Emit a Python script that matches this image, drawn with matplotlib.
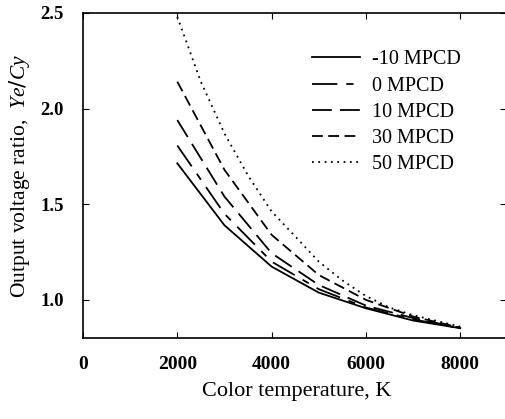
import matplotlib
matplotlib.use("Agg")
import matplotlib.pyplot as plt

# values
temps = [2000, 3000, 4000, 5000, 6000, 7000, 8000]
m10 = [1.714, 1.39, 1.174, 1.038, 0.956, 0.892, 0.852]
p0 = [1.807, 1.45, 1.20, 1.056, 0.960, 0.898, 0.852]
p10 = [1.94, 1.54, 1.244, 1.078, 0.970, 0.905, 0.853]
p30 = [2.141, 1.68, 1.34, 1.13, 1.0, 0.913, 0.855]
# the 50 MPCD curve is smoother, so it is read at a finer step
temps50 = [2000, 2500, 3000, 3500, 4000, 4500, 5000, 5500, 6000, 6500, 7000, 7500, 8000]
p50 = [2.48, 2.14, 1.87, 1.65, 1.462, 1.332, 1.20, 1.102, 1.02, 0.96, 0.92, 0.89, 0.86]
labels = ['-10 MPCD', '0 MPCD', '10 MPCD', '30 MPCD', '50 MPCD']

plt.rcParams['font.family'] = ['Liberation Serif', 'DejaVu Serif']
plt.rcParams['mathtext.fontset'] = 'custom'
plt.rcParams['mathtext.it'] = 'Liberation Serif:italic'

fig = plt.figure(figsize=(5.06, 4.19), dpi=100)
ax = fig.add_axes([0.164, 0.193, 0.836, 0.776])

styles = ['-', (0, (14, 5, 4, 5)), (0, (11, 4.5)), (0, (6, 3)), (0, (1, 2.5))]
xs = [temps, temps, temps, temps, temps50]
series = [m10, p0, p10, p30, p50]
for x, ys, ls, lab in zip(xs, series, styles, labels):
    ax.plot(x, ys, color='black', linestyle=ls, linewidth=1.3, label=lab)

ax.set_xlim(0, 8970)
ax.set_ylim(0.8, 2.5)
ax.set_xticks([0, 2000, 4000, 6000, 8000])
ax.set_yticks([1.0, 1.5, 2.0, 2.5])
ax.set_yticklabels(['1.0', '1.5', '2.0', '2.5'])
ax.tick_params(direction='in', top=True, right=True, length=4)
ax.tick_params(axis='x', labelsize=14, pad=13)
ax.tick_params(axis='y', labelsize=13.5, pad=14)
for t in ax.get_xticklabels() + ax.get_yticklabels():
    t.set_fontweight('bold')
for sp in ax.spines.values():
    sp.set_linewidth(1.2)

ax.set_xlabel('Color temperature, K', fontsize=16)
ax.xaxis.set_label_coords(0.506, -0.135)
ax.set_ylabel('Output voltage ratio,  $Ye/Cy$', fontsize=15.5)
ax.yaxis.set_label_coords(-0.12, 0.5)

ax.legend(loc='upper left', bbox_to_anchor=(0.522, 0.91), borderaxespad=0, frameon=False,
          fontsize=14.5, handlelength=2.4, handletextpad=0.6, labelspacing=0.35)

fig.savefig('out.png', dpi=100)
